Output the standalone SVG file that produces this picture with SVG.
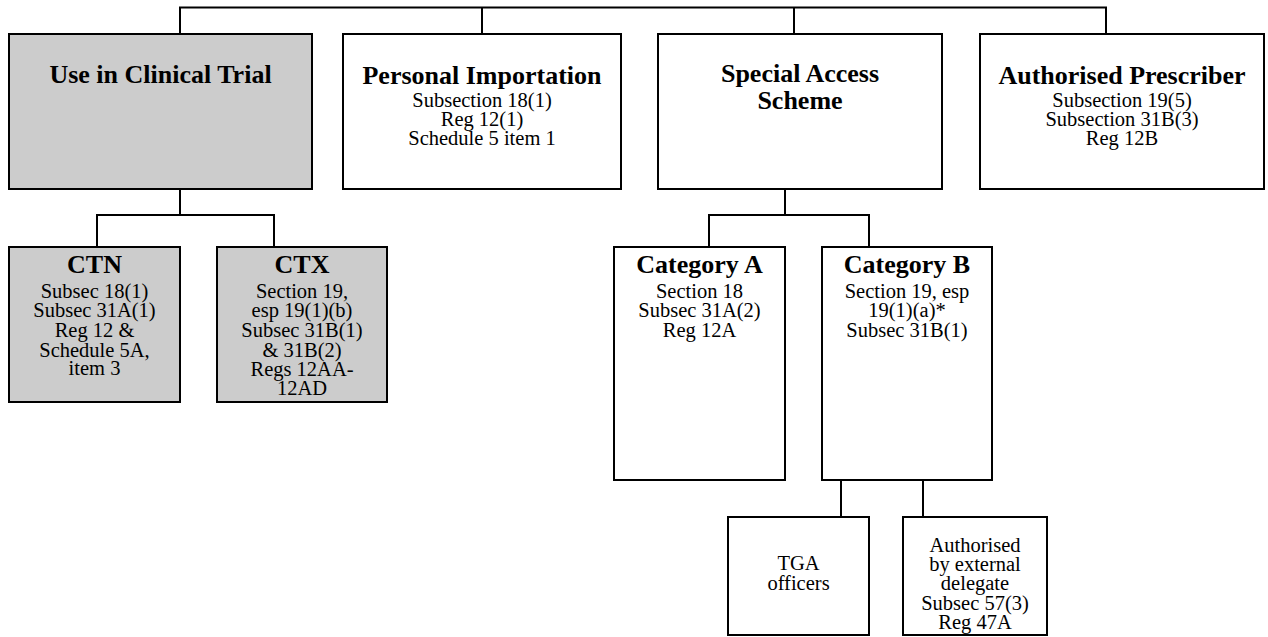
<svg xmlns="http://www.w3.org/2000/svg" width="1268" height="637" viewBox="0 0 1268 637">
<style>
.box{stroke:#000;stroke-width:2;fill:#fff}
.grey{fill:#cccccc}
.h{font-family:"Liberation Serif","Times New Roman",serif;font-weight:bold;font-size:26px;text-anchor:middle;fill:#000}
.b{font-family:"Liberation Serif","Times New Roman",serif;font-size:20.5px;text-anchor:middle;fill:#000}
.c{fill:none;stroke:#000;stroke-width:2}
</style>
<g id="connectors">
<path class="c" d="M180,34 V7.5 H1106 V34 M482,7.5 V34 M794,7.5 V34"/>
<path class="c" d="M180,189 V215 M97,247 V215 H274 V247"/>
<path class="c" d="M785,189 V215 M709,247 V215 H869 V247"/>
<path class="c" d="M841,480 V517 M923,480 V517"/>
</g>
<g id="clinical">
<rect class="box grey" x="9" y="34" width="303" height="155"/>
<text class="h" x="160.5" y="83">Use in Clinical Trial</text>
</g>
<g id="personal">
<rect class="box" x="343" y="34" width="278" height="155"/>
<text class="h" x="482" y="84">Personal Importation</text>
<text class="b" x="482" y="107">Subsection 18(1)</text>
<text class="b" x="482" y="126">Reg 12(1)</text>
<text class="b" x="482" y="145">Schedule 5 item 1</text>
</g>
<g id="sas">
<rect class="box" x="658" y="34" width="284" height="155"/>
<text class="h" x="800" y="82">Special Access</text>
<text class="h" x="800" y="109">Scheme</text>
</g>
<g id="prescriber">
<rect class="box" x="980" y="34" width="284" height="155"/>
<text class="h" x="1122" y="84">Authorised Prescriber</text>
<text class="b" x="1122" y="107">Subsection 19(5)</text>
<text class="b" x="1122" y="126">Subsection 31B(3)</text>
<text class="b" x="1122" y="145">Reg 12B</text>
</g>
<g id="ctn">
<rect class="box grey" x="9" y="247" width="171" height="155"/>
<text class="h" x="94.5" y="273">CTN</text>
<text class="b" x="94.5" y="298">Subsec 18(1)</text>
<text class="b" x="94.5" y="317">Subsec 31A(1)</text>
<text class="b" x="94.5" y="337">Reg 12 &amp;</text>
<text class="b" x="94.5" y="357">Schedule 5A,</text>
<text class="b" x="94.5" y="375">item 3</text>
</g>
<g id="ctx">
<rect class="box grey" x="217" y="247" width="170" height="155"/>
<text class="h" x="302" y="273">CTX</text>
<text class="b" x="302" y="298">Section 19,</text>
<text class="b" x="302" y="317">esp 19(1)(b)</text>
<text class="b" x="302" y="337">Subsec 31B(1)</text>
<text class="b" x="302" y="357">&amp; 31B(2)</text>
<text class="b" x="302" y="376">Regs 12AA-</text>
<text class="b" x="302" y="395">12AD</text>
</g>
<g id="cata">
<rect class="box" x="614" y="247" width="171" height="233"/>
<text class="h" x="699.5" y="273">Category A</text>
<text class="b" x="699.5" y="298">Section 18</text>
<text class="b" x="699.5" y="317">Subsec 31A(2)</text>
<text class="b" x="699.5" y="337">Reg 12A</text>
</g>
<g id="catb">
<rect class="box" x="822" y="247" width="170" height="233"/>
<text class="h" x="907" y="273">Category B</text>
<text class="b" x="907" y="298">Section 19, esp</text>
<text class="b" x="907" y="317">19(1)(a)*</text>
<text class="b" x="907" y="337">Subsec 31B(1)</text>
</g>
<g id="tga">
<rect class="box" x="728" y="517" width="141" height="118"/>
<text class="b" x="798.5" y="570">TGA</text>
<text class="b" x="798.5" y="590">officers</text>
</g>
<g id="delegate">
<rect class="box" x="903" y="517" width="144" height="118"/>
<text class="b" x="975" y="552">Authorised</text>
<text class="b" x="975" y="571">by external</text>
<text class="b" x="975" y="590">delegate</text>
<text class="b" x="975" y="610">Subsec 57(3)</text>
<text class="b" x="975" y="629">Reg 47A</text>
</g>
</svg>
